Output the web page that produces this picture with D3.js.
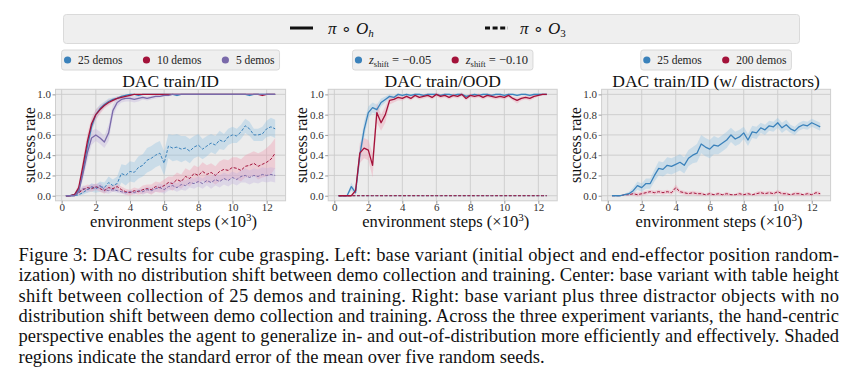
<!DOCTYPE html>
<html><head><meta charset="utf-8">
<script src="https://cdn.jsdelivr.net/npm/d3@7"></script>
<style>body{margin:0;background:#fff;} svg{display:block;}</style>
</head><body><svg id="c" width="856" height="380"></svg>
<script>
// ---------------- DATA ----------------
const steps = [0.25,0.5,0.75,1,1.25,1.5,1.75,2,2.25,2.5,
  2.75,3,3.25,3.5,3.75,4,4.25,4.5,4.75,5,
  5.25,5.5,5.75,6,6.25,6.5,6.75,7,7.25,7.5,
  7.75,8,8.25,8.5,8.75,9,9.25,9.5,9.75,10,
  10.25,10.5,10.75,11,11.25,11.5,11.75,12,12.25,12.5];
const xTicks = [0,2,4,6,8,10,12];
const yTicks = [0,0.2,0.4,0.6,0.8,1.0];
const yTickLabels = ["0.0","0.2","0.4","0.6","0.8","1.0"];
const titles = ["DAC train/ID","DAC train/OOD","DAC train/ID (w/ distractors)"];
const yLabel = "success rate";
const xLabel = "environment steps (×10";

// Panel 1: DAC train/ID
const id_h25 = [0,0,0.01,0.06,0.25,0.48,0.68,0.8,0.86,0.9,
  0.93,0.95,0.96,0.98,0.99,1,1,0.99,1,1,
  1,1,1,1,1,1,0.99,1,1,1,
  1,1,1,1,1,1,1,1,1,1,
  1,1,1,0.99,1,1,1,1,1,1];
const id_h25_err = [0,0,0.01,0.03,0.06,0.07,0.06,0.05,0.04,0.03,
  0.03,0.02,0.02,0.01,0.01,0,0,0.01,0,0,
  0,0,0,0,0,0,0.01,0,0,0,
  0,0,0,0,0,0,0,0,0,0,
  0,0,0,0.01,0,0,0,0,0,0];
const id_h10 = [0,0,0.01,0.08,0.3,0.53,0.71,0.8,0.85,0.89,
  0.92,0.94,0.96,0.97,0.98,0.99,1,1,1,1,
  1,1,1,1,1,1,1,1,1,1,
  1,1,1,1,1,1,1,1,1,1,
  1,1,1,1,1,1,0.99,1,1,1];
const id_h10_err = [0,0,0.01,0.04,0.07,0.08,0.06,0.05,0.04,0.03,
  0.03,0.02,0.02,0.02,0.01,0.01,0,0,0,0,
  0,0,0,0,0,0,0,0,0,0,
  0,0,0,0,0,0,0,0,0,0,
  0,0,0,0,0,0,0.01,0,0,0];
const id_h5 = [0,0,0,0.04,0.22,0.42,0.57,0.6,0.57,0.53,
  0.62,0.84,0.92,0.95,0.96,0.96,0.95,0.96,0.97,0.96,
  0.97,0.98,0.98,0.99,0.99,1,1,1,1,1,
  1,1,1,1,1,1,1,1,1,1,
  1,1,1,1,1,1,1,1,1,1];
const id_h5_err = [0,0,0,0.02,0.06,0.08,0.07,0.06,0.06,0.06,
  0.08,0.06,0.04,0.03,0.03,0.03,0.03,0.03,0.02,0.02,
  0.02,0.02,0.01,0.01,0.01,0,0,0,0,0,
  0,0,0,0,0,0,0,0,0,0,
  0,0,0,0,0,0,0,0,0,0];
const id_o25 = [0,0,0,0.01,0.03,0.06,0.08,0.07,0.09,0.08,
  0.13,0.1,0.12,0.22,0.2,0.24,0.23,0.28,0.3,0.35,
  0.37,0.4,0.42,0.32,0.49,0.47,0.48,0.46,0.47,0.44,
  0.48,0.5,0.46,0.49,0.52,0.5,0.55,0.53,0.58,0.6,
  0.59,0.63,0.69,0.66,0.6,0.6,0.61,0.66,0.68,0.66];
const id_o25_err = [0,0,0,0.01,0.02,0.03,0.04,0.04,0.05,0.05,
  0.06,0.06,0.07,0.09,0.1,0.1,0.1,0.11,0.11,0.12,
  0.12,0.12,0.12,0.12,0.12,0.13,0.13,0.13,0.12,0.12,
  0.11,0.11,0.1,0.1,0.09,0.09,0.09,0.08,0.08,0.08,
  0.07,0.07,0.07,0.07,0.06,0.06,0.07,0.08,0.09,0.09];
const id_o10 = [0,0,0.01,0.03,0.06,0.08,0.07,0.09,0.07,0.05,
  0.08,0.07,0.09,0.06,0.04,0.03,0.05,0.04,0.06,0.07,
  0.06,0.09,0.08,0.1,0.13,0.12,0.16,0.14,0.19,0.17,
  0.22,0.2,0.24,0.21,0.23,0.2,0.24,0.26,0.25,0.28,
  0.27,0.25,0.29,0.3,0.32,0.29,0.31,0.33,0.36,0.42];
const id_o10_err = [0,0,0.01,0.02,0.03,0.03,0.03,0.03,0.03,0.03,
  0.03,0.03,0.03,0.03,0.03,0.03,0.03,0.03,0.04,0.04,
  0.05,0.05,0.05,0.06,0.06,0.07,0.07,0.07,0.08,0.08,
  0.08,0.08,0.09,0.09,0.09,0.09,0.1,0.1,0.1,0.1,
  0.11,0.11,0.11,0.12,0.12,0.13,0.13,0.14,0.15,0.15];
const id_o5 = [0,0,0.01,0.04,0.07,0.06,0.09,0.08,0.1,0.06,
  0.05,0.06,0.05,0.04,0.03,0.04,0.03,0.05,0.04,0.06,
  0.05,0.07,0.08,0.06,0.09,0.1,0.08,0.11,0.1,0.13,
  0.12,0.14,0.12,0.15,0.13,0.16,0.14,0.17,0.15,0.18,
  0.16,0.19,0.2,0.18,0.2,0.19,0.21,0.2,0.21,0.2];
const id_o5_err = [0,0,0.01,0.02,0.03,0.03,0.03,0.03,0.03,0.03,
  0.03,0.02,0.02,0.02,0.02,0.02,0.02,0.02,0.03,0.03,
  0.03,0.03,0.04,0.04,0.04,0.04,0.04,0.05,0.05,0.05,
  0.05,0.05,0.05,0.05,0.06,0.06,0.06,0.06,0.06,0.06,
  0.06,0.06,0.07,0.07,0.07,0.07,0.07,0.07,0.07,0.07];

// Panel 2: DAC train/OOD
const ood_h05 = [0,0,0,0.09,0.03,0.4,0.65,0.82,0.87,0.85,
  0.92,0.95,0.98,0.97,1,0.99,1,0.99,1,1,
  0.99,1,1,1,0.99,1,1,0.99,1,1,
  0.98,0.99,1,0.99,1,1,0.99,1,1,0.99,
  1,1,0.99,1,1,0.99,1,1,1,1];
const ood_h05_err = [0,0,0,0.04,0.02,0.08,0.08,0.06,0.05,0.05,
  0.04,0.03,0.02,0.02,0.01,0.01,0.01,0.01,0.01,0.01,
  0.01,0.01,0.01,0.01,0.01,0.01,0.01,0.01,0.01,0.01,
  0.01,0.01,0.01,0.01,0.01,0.01,0.01,0.01,0.01,0.01,
  0.01,0.01,0.01,0.01,0.01,0.01,0.01,0.01,0.01,0.01];
const ood_h10 = [0,0,0,0,0.05,0.42,0.47,0.45,0.3,0.82,
  0.72,0.8,0.94,0.95,0.97,0.96,0.98,0.96,0.99,0.97,
  0.98,0.99,0.97,1,0.98,0.99,0.97,0.99,0.98,1,
  0.96,0.99,0.98,0.99,0.97,0.99,0.98,0.97,0.98,0.97,
  0.99,0.96,0.94,0.96,0.97,0.96,0.98,0.99,1,1];
const ood_h10_err = [0,0,0,0,0.03,0.1,0.1,0.1,0.12,0.1,
  0.08,0.08,0.04,0.03,0.03,0.02,0.02,0.02,0.02,0.02,
  0.02,0.02,0.02,0.02,0.02,0.02,0.02,0.02,0.02,0.02,
  0.02,0.02,0.02,0.02,0.02,0.02,0.02,0.02,0.02,0.02,
  0.02,0.02,0.03,0.02,0.02,0.02,0.02,0.01,0.01,0.01];
const ood_o05 = [0,0,0,0,0,0,0,0,0,0, 0,0,0,0,0,0,0,0,0,0,
  0,0,0,0,0,0,0,0,0,0, 0,0,0,0,0,0,0,0,0,0, 0,0,0,0,0,0,0,0,0,0];
const ood_o10 = [0,0,0,0,0,0,0,0,0,0, 0,0,0,0,0,0,0,0,0,0,
  0,0,0,0,0,0,0,0,0,0, 0,0,0,0,0,0,0,0,0,0, 0,0,0,0,0,0,0,0,0,0];

// Panel 3: DAC train/ID (w/ distractors)
const dis_h25 = [0,0,0,0.01,0.02,0.05,0.1,0.08,0.12,0.12,
  0.2,0.27,0.26,0.3,0.29,0.31,0.33,0.3,0.37,0.4,
  0.42,0.51,0.48,0.46,0.5,0.49,0.52,0.55,0.6,0.56,
  0.58,0.62,0.55,0.63,0.62,0.67,0.65,0.69,0.68,0.72,
  0.67,0.7,0.66,0.64,0.68,0.7,0.69,0.72,0.7,0.68];
const dis_h25_err = [0,0,0,0.01,0.02,0.03,0.04,0.04,0.05,0.05,
  0.06,0.07,0.07,0.08,0.08,0.08,0.08,0.08,0.08,0.08,
  0.09,0.09,0.09,0.09,0.09,0.08,0.08,0.08,0.07,0.07,
  0.07,0.06,0.06,0.06,0.06,0.05,0.05,0.05,0.05,0.05,
  0.05,0.05,0.04,0.04,0.04,0.04,0.04,0.04,0.04,0.04];
const dis_o200 = [0,0,0,0.01,0.01,0.02,0.01,0.02,0.03,0.04,
  0.03,0.04,0.03,0.04,0.03,0.08,0.04,0.03,0.02,0.03,
  0.02,0.02,0.01,0.02,0.01,0.02,0.01,0.02,0.01,0.01,
  0.02,0.01,0.02,0.01,0.02,0.03,0.02,0.03,0.02,0.04,
  0.02,0.02,0.01,0.02,0.02,0.01,0.02,0.01,0.03,0.02];
const dis_o200_err = [0,0,0,0.01,0.01,0.02,0.02,0.02,0.02,0.02,
  0.02,0.02,0.02,0.02,0.02,0.03,0.02,0.02,0.02,0.02,
  0.02,0.02,0.01,0.02,0.01,0.02,0.01,0.02,0.01,0.01,
  0.02,0.01,0.02,0.01,0.02,0.02,0.02,0.02,0.02,0.02,
  0.02,0.02,0.01,0.02,0.02,0.01,0.02,0.01,0.02,0.02];

const captionLines = [
  "Figure 3: DAC results for cube grasping. Left: base variant (initial object and end-effector position random-",
  "ization) with no distribution shift between demo collection and training. Center: base variant with table height",
  "shift between collection of 25 demos and training. Right: base variant plus three distractor objects with no",
  "distribution shift between demo collection and training. Across the three experiment variants, the hand-centric",
  "perspective enables the agent to generalize in- and out-of-distribution more efficiently and effectively. Shaded",
  "regions indicate the standard error of the mean over five random seeds."
];

// ---------------- STYLE ----------------
const BLUE = "#3b82bb", RED = "#a3123a", PURPLE = "#7a6aaa";
const BAND = {[BLUE]:"#8cc0e3", [RED]:"#f195ab", [PURPLE]:"#bfb0dc"};
const FONT = "'Liberation Serif','Times New Roman',serif";

const svg = d3.select("#c");

// top legend
const tl = svg.append("g");
tl.append("rect").attr("x",63.5).attr("y",14.5).attr("width",736).attr("height",29)
  .attr("rx",3).attr("fill","#efefef").attr("stroke","#dadada");
function mathLabel(g, x, y, sub){
  const t = g.append("text").attr("x",x).attr("y",y).attr("font-family",FONT).attr("font-size",17).attr("fill","#111");
  t.append("tspan").attr("font-style","italic").text("π");
  t.append("tspan").text(" ∘ ");
  t.append("tspan").attr("font-style","italic").text("O");
  t.append("tspan").attr("font-size",11).attr("dy",3).attr("font-style", sub==="h"?"italic":"normal").text(sub);
}
tl.append("line").attr("x1",290).attr("x2",313).attr("y1",28).attr("y2",28).attr("stroke","#111").attr("stroke-width",3);
mathLabel(tl, 328, 33.5, "h");
tl.append("line").attr("x1",485).attr("x2",508).attr("y1",28).attr("y2",28).attr("stroke","#111").attr("stroke-width",3).attr("stroke-dasharray","5,2.6");
mathLabel(tl, 520, 33.5, "3");

const yScale = d3.scaleLinear().domain([-0.05,1.05]).range([200.8,89.3]);

const panels = [
  {left:55.5, right:285.6, title:titles[0], lfs:11.5,
   legend:[{c:BLUE, seg:[{t:"25 demos"}]},{c:RED, seg:[{t:"10 demos"}]},{c:PURPLE, seg:[{t:"5 demos"}]}],
   series:[
     {v:id_o25, e:id_o25_err, c:BLUE, dash:true},
     {v:id_o10, e:id_o10_err, c:RED, dash:true},
     {v:id_o5, e:id_o5_err, c:PURPLE, dash:true},
     {v:id_h25, e:id_h25_err, c:BLUE},
     {v:id_h10, e:id_h10_err, c:RED},
     {v:id_h5, e:id_h5_err, c:PURPLE}
   ]},
  {left:328.2, right:557.2, title:titles[1], lfs:12.5,
   legend:[{c:BLUE, seg:[{t:"z",i:1},{t:"shift",sub:1},{t:" = −0.05"}]},{c:RED, seg:[{t:"z",i:1},{t:"shift",sub:1},{t:" = −0.10"}]}],
   series:[
     {v:ood_o05, e:null, c:BLUE, dash:true},
     {v:ood_o10, e:null, c:RED, dash:true},
     {v:ood_h05, e:ood_h05_err, c:BLUE},
     {v:ood_h10, e:ood_h10_err, c:RED}
   ]},
  {left:601.6, right:830.6, title:titles[2], lfs:11.5,
   legend:[{c:BLUE, seg:[{t:"25 demos"}]},{c:RED, seg:[{t:"200 demos"}]}],
   series:[
     {v:dis_o200, e:dis_o200_err, c:RED, dash:true},
     {v:dis_h25, e:dis_h25_err, c:BLUE}
   ]}
];

panels.forEach(p => {
  const x = d3.scaleLinear().domain([-0.36,13.11]).range([p.left,p.right]);
  const g = svg.append("g");
  const top = yScale.range()[1], bot = yScale.range()[0];
  g.append("rect").attr("x",p.left).attr("y",top).attr("width",p.right-p.left).attr("height",bot-top).attr("fill","#ececec");
  // grid
  g.selectAll(".gx").data(xTicks).join("line").attr("x1",d=>x(d)).attr("x2",d=>x(d)).attr("y1",top).attr("y2",bot)
    .attr("stroke","#cbcbcb").attr("stroke-width",0.9);
  g.selectAll(".gy").data(yTicks).join("line").attr("y1",d=>yScale(d)).attr("y2",d=>yScale(d)).attr("x1",p.left).attr("x2",p.right)
    .attr("stroke","#cbcbcb").attr("stroke-width",0.9);
  // bands
  const clipId = "clip"+Math.round(p.left);
  g.append("clipPath").attr("id",clipId).append("rect").attr("x",p.left).attr("y",top).attr("width",p.right-p.left).attr("height",bot-top);
  const plot = g.append("g").attr("clip-path",`url(#${clipId})`);
  p.series.forEach(s => {
    if(!s.e) return;
    const area = d3.area().x((d,i)=>x(steps[i])).y0((d,i)=>yScale(s.v[i]-s.e[i])).y1((d,i)=>yScale(s.v[i]+s.e[i]));
    plot.append("path").datum(s.v).attr("d",area).attr("fill",BAND[s.c]).attr("fill-opacity",0.35);
  });
  p.series.forEach(s => {
    const line = d3.line().x((d,i)=>x(steps[i])).y(d=>yScale(d));
    plot.append("path").datum(s.v).attr("d",line).attr("fill","none").attr("stroke",s.c)
      .attr("stroke-width", s.dash?1:1.3).attr("stroke-dasharray", s.dash?"3,1.6":null).attr("stroke-linejoin","round");
  });
  // frame
  g.append("rect").attr("x",p.left).attr("y",top).attr("width",p.right-p.left).attr("height",bot-top)
    .attr("fill","none").attr("stroke","#cfcfcf").attr("stroke-width",1);
  // axes
  const ax = g.append("g").attr("transform",`translate(0,${bot})`)
    .call(d3.axisBottom(x).tickValues(xTicks).tickSize(3).tickFormat(d3.format("d")));
  const ay = g.append("g").attr("transform",`translate(${p.left},0)`)
    .call(d3.axisLeft(yScale).tickValues(yTicks).tickSize(3).tickPadding(1.5).tickFormat((d,i)=>yTickLabels[i]));
  [ax,ay].forEach(a => {
    a.select(".domain").remove();
    a.selectAll(".tick line").attr("stroke","#9a9a9a");
    a.selectAll("text").attr("font-family",FONT).attr("font-size",11).attr("fill","#333");
  });
  ax.selectAll("text").attr("y",2).attr("dy","0.71em");
  // title
  g.append("text").attr("x",(p.left+p.right)/2).attr("y",86.7).attr("text-anchor","middle")
    .attr("font-family",FONT).attr("font-size",17.5).attr("fill","#111").text(p.title);
  // y label
  g.append("text").attr("transform",`translate(${p.left-21},145) rotate(-90)`).attr("text-anchor","middle")
    .attr("font-family",FONT).attr("font-size",16).attr("fill","#111").text(yLabel);
  // x label
  const xl = g.append("text").attr("x",(p.left+p.right)/2+3).attr("y",226.5).attr("text-anchor","middle")
    .attr("font-family",FONT).attr("font-size",16.5).attr("fill","#111");
  xl.append("tspan").text(xLabel);
  xl.append("tspan").attr("font-size",11).attr("dy",-6).text("3");
  xl.append("tspan").attr("dy",6).text(")");
  // legend
  const lg = g.append("g");
  const box = lg.append("rect").attr("y",50).attr("height",20).attr("rx",2.5).attr("fill","#efefef").attr("stroke","#d8d8d8");
  let cur = 0;
  p.legend.forEach((it) => {
    const dotX = cur + 6;
    lg.append("circle").attr("cx",dotX).attr("cy",60).attr("r",3.6).attr("fill",it.c);
    const t = lg.append("text").attr("x",dotX+10.5).attr("y",64).attr("font-family",FONT).attr("font-size",p.lfs).attr("fill","#222");
    let prevSub = false;
    it.seg.forEach(sg => {
      const ts = t.append("tspan").text(sg.t);
      if(sg.i) ts.attr("font-style","italic");
      if(sg.sub) { ts.attr("font-size",8.5).attr("dy",2.5); }
      else if(prevSub) ts.attr("dy",-2.5);
      prevSub = !!sg.sub;
    });
    const w = t.node().getComputedTextLength();
    cur = dotX + 10.5 + w + 18;
  });
  const total = cur - 18 + 5;
  const cx = (p.left+p.right)/2;
  lg.attr("transform",`translate(${cx-total/2},0)`);
  box.attr("x",0).attr("width",total);
});

// caption
const cap = svg.append("g");
const capLeft = 18.5, capRight = 839, lastRight = 546;
let fs = 17;
const probe = cap.append("text").attr("font-family",FONT).attr("font-size",fs).text(captionLines[5]);
const lw = probe.node().getComputedTextLength();
fs = fs * (lastRight-capLeft)/lw;
fs = Math.min(Math.max(fs,15),18.5);
probe.remove();
captionLines.forEach((ln,i) => {
  const t = cap.append("text").attr("x",capLeft).attr("y",261+i*20.35).attr("font-family",FONT).attr("font-size",fs)
    .attr("fill","#111").text(ln);
  if(i<5) t.attr("textLength",capRight-capLeft).attr("lengthAdjust","spacing");
});
</script>
</body></html>
